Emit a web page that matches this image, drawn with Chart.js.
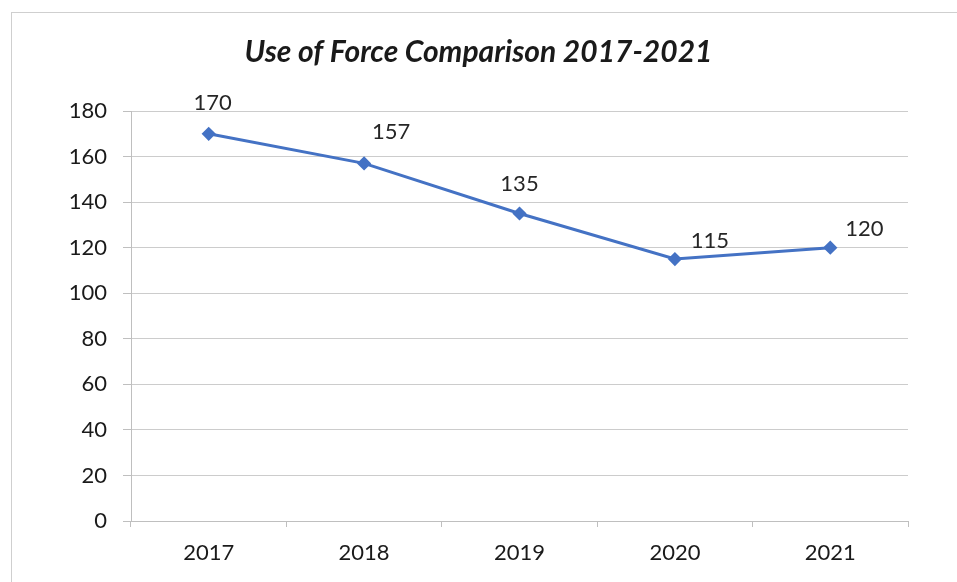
<!DOCTYPE html>
<html>
<head>
<meta charset="utf-8">
<script src="https://cdn.jsdelivr.net/npm/chart.js@4"></script>
<style>
  html, body { margin: 0; padding: 0; background: #fff; }
  #frame { position: absolute; left: 11px; top: 12px; width: 960px; height: 600px; border: 1px solid #cfcfcf; }
  #wrap { position: absolute; left: 0; top: 0; width: 957px; height: 582px; }
</style>
</head>
<body>
<div id="frame"></div>
<div id="wrap"><canvas id="chart"></canvas></div>
<script>
  var years = ['2017', '2018', '2019', '2020', '2021'];
  var useOfForce = [170, 157, 135, 115, 120];
  var yTicks = [0, 20, 40, 60, 80, 100, 120, 140, 160, 180];

  // where each value label sits relative to its point
  var labelOffsets = [[4, -31], [27, -31], [0, -30], [35, -18], [34, -19]];

  var valueLabels = {
    id: 'valueLabels',
    afterDatasetsDraw(chart) {
      var ctx = chart.ctx;
      var meta = chart.getDatasetMeta(0);
      ctx.save();
      ctx.font = '22px Lato';
      ctx.fillStyle = '#262626';
      ctx.textAlign = 'center';
      ctx.textBaseline = 'middle';
      meta.data.forEach(function (pt, i) {
        ctx.fillText(String(useOfForce[i]), pt.x + labelOffsets[i][0], pt.y + labelOffsets[i][1]);
      });
      ctx.restore();
    }
  };

  new Chart(document.getElementById('chart'), {
    type: 'line',
    data: {
      labels: years,
      datasets: [{
        data: useOfForce,
        borderColor: '#4472C4',
        backgroundColor: '#4472C4',
        borderWidth: 3,
        pointStyle: 'rectRot',
        pointRadius: 5,
        tension: 0
      }]
    },
    options: {
      responsive: true,
      maintainAspectRatio: false,
      animation: false,
      layout: { padding: { left: 49, right: 49, top: 0, bottom: 0 } },
      plugins: {
        legend: { display: false },
        tooltip: { enabled: false },
        title: {
          display: true,
          text: 'Use of Force Comparison 2017-2021',
          color: '#1a1a1a',
          font: { family: 'Lato', size: 30, weight: 'bold', style: 'italic', lineHeight: 1.2 },
          padding: { top: 34, bottom: 41 }
        }
      },
      scales: {
        x: {
          offset: true,
          grid: { offset: true, drawOnChartArea: false, drawTicks: true, tickLength: 6, color: '#bfbfbf' },
          border: { color: '#bfbfbf' },
          ticks: { color: '#1a1a1a', font: { family: 'Lato', size: 22 }, padding: 13 },
          afterFit: function (s) { s.height = 61; }
        },
        y: {
          min: 0,
          max: 180,
          afterBuildTicks: function (s) { s.ticks = yTicks.map(function (v) { return { value: v }; }); },
          grid: { color: '#cccccc', tickLength: 8, tickColor: '#bfbfbf' },
          border: { color: '#bfbfbf' },
          ticks: { color: '#1a1a1a', font: { family: 'Lato', size: 22 }, padding: 16 },
          afterFit: function (s) { s.width = 82; }
        }
      }
    },
    plugins: [valueLabels]
  });
</script>
</body>
</html>
